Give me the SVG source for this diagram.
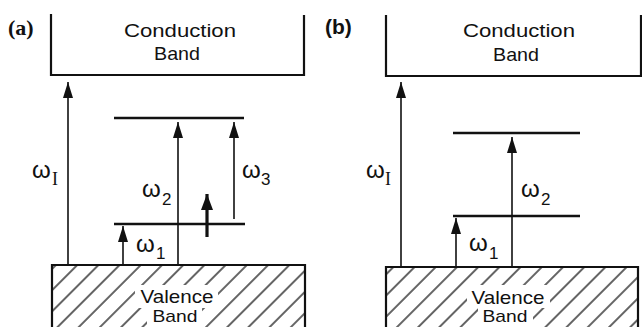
<svg xmlns="http://www.w3.org/2000/svg" width="642" height="327" viewBox="0 0 642 327">
<style>
.band{fill:none;stroke:#111;stroke-width:2.2}
.lvl{stroke:#111;stroke-width:2.4}
.arr{stroke:#111;stroke-width:1.6;fill:none}
.thick{stroke:#111;stroke-width:3.2;fill:none}
.t{font-family:"Liberation Sans",Arial,sans-serif;font-size:19px;fill:#111}
.tb{font-family:"Liberation Sans",Arial,sans-serif;font-size:17px;fill:#111}
.w{font-family:"Liberation Sans",Arial,sans-serif;font-size:24px;fill:#111}
.sub{font-family:"Liberation Sans",Arial,sans-serif;font-size:17px;fill:#111}
.subI{font-family:"Liberation Serif","Times New Roman",serif;font-size:18px;fill:#111}
.lbl{font-family:"Liberation Serif","Times New Roman",serif;font-size:22px;font-weight:bold;fill:#111}
.lblb{font-family:"Liberation Sans",Arial,sans-serif;font-size:21px;font-weight:bold;fill:#111}
</style>
<defs>
<marker id="ah" viewBox="0 0 16 10" refX="16" refY="5" markerWidth="16" markerHeight="10" markerUnits="userSpaceOnUse" orient="auto">
<path d="M0,0 L16,5 L0,10 z" fill="#111"/>
</marker>
<marker id="ahb" viewBox="0 0 16 12" refX="16" refY="6" markerWidth="16" markerHeight="12" markerUnits="userSpaceOnUse" orient="auto">
<path d="M0,0 L16,6 L0,12 z" fill="#111"/>
</marker>
<pattern id="hatch" patternUnits="userSpaceOnUse" width="15" height="15" patternTransform="rotate(45)">
<line x1="2" y1="0" x2="2" y2="15" stroke="#111" stroke-width="1.3"/>
</pattern>
</defs>
<rect width="642" height="327" fill="#fff"/>

<g id="label-a"><text class="lbl" x="8" y="35">(a)</text></g>
<g id="label-b"><text class="lblb" x="325" y="34">(b)</text></g>

<g id="conduction-a">
<path class="band" d="M51,14 V75 H304 V15"/>
<text class="t" x="180" y="37" text-anchor="middle" textLength="112" lengthAdjust="spacingAndGlyphs">Conduction</text>
<text class="t" x="177" y="60" text-anchor="middle" textLength="46" lengthAdjust="spacingAndGlyphs">Band</text>
</g>

<g id="valence-a">
<rect x="52" y="265" width="253" height="70" fill="url(#hatch)" stroke="none"/>
<rect x="135" y="285" width="83" height="23" fill="#fff"/>
<rect x="147" y="307" width="55" height="22" fill="#fff"/>
<path class="band" d="M52,335 V265 H305 V335"/>
<text class="t" x="177" y="303" text-anchor="middle" textLength="73" lengthAdjust="spacingAndGlyphs">Valence</text>
<text class="tb" x="175" y="322" text-anchor="middle" textLength="45" lengthAdjust="spacingAndGlyphs">Band</text>
</g>

<g id="level-upper-a"><line class="lvl" x1="114" y1="118" x2="244" y2="118"/></g>
<g id="level-lower-a"><line class="lvl" x1="114" y1="224" x2="245" y2="224"/></g>

<g id="conduction-b">
<path class="band" d="M386,15 V76 H641 V15"/>
<text class="t" x="519" y="37" text-anchor="middle" textLength="112" lengthAdjust="spacingAndGlyphs">Conduction</text>
<text class="t" x="516" y="61" text-anchor="middle" textLength="46" lengthAdjust="spacingAndGlyphs">Band</text>
</g>

<g id="valence-b">
<rect x="386" y="267" width="252" height="70" fill="url(#hatch)" stroke="none"/>
<rect x="467" y="285" width="83" height="23" fill="#fff"/>
<rect x="478" y="307" width="55" height="22" fill="#fff"/>
<path class="band" d="M386,337 V267 H638 V337"/>
<text class="t" x="508" y="304" text-anchor="middle" textLength="73" lengthAdjust="spacingAndGlyphs">Valence</text>
<text class="tb" x="505" y="322" text-anchor="middle" textLength="45" lengthAdjust="spacingAndGlyphs">Band</text>
</g>

<g id="level-upper-b"><line class="lvl" x1="453" y1="133" x2="580" y2="133"/></g>
<g id="level-lower-b"><line class="lvl" x1="453" y1="216" x2="580" y2="216"/></g>

<g id="connectors">
<line class="arr" x1="68" y1="264" x2="68" y2="82" marker-end="url(#ah)"/>
<line class="arr" x1="178" y1="264" x2="178" y2="122" marker-end="url(#ah)"/>
<line class="arr" x1="234" y1="219" x2="234" y2="122" marker-end="url(#ah)"/>
<line class="arr" x1="123" y1="264" x2="123" y2="226" marker-end="url(#ah)"/>
<line class="thick" x1="207" y1="237" x2="207" y2="194" marker-end="url(#ahb)"/>
<line class="arr" x1="401" y1="266" x2="401" y2="82" marker-end="url(#ah)"/>
<line class="arr" x1="512" y1="266" x2="512" y2="137" marker-end="url(#ah)"/>
<line class="arr" x1="456" y1="266" x2="456" y2="218" marker-end="url(#ah)"/>
</g>

<g id="labels">
<text class="w" x="32" y="178">ω</text><text class="subI" x="52" y="185">I</text>
<text class="w" x="142" y="197">ω</text><text class="sub" x="162" y="205">2</text>
<text class="w" x="136" y="252">ω</text><text class="sub" x="156" y="259">1</text>
<text class="w" x="242" y="178">ω</text><text class="sub" x="261" y="185">3</text>
<text class="w" x="366" y="178">ω</text><text class="subI" x="385" y="185">I</text>
<text class="w" x="521" y="197">ω</text><text class="sub" x="541" y="205">2</text>
<text class="w" x="469" y="251">ω</text><text class="sub" x="489" y="259">1</text>
</g>
</svg>
